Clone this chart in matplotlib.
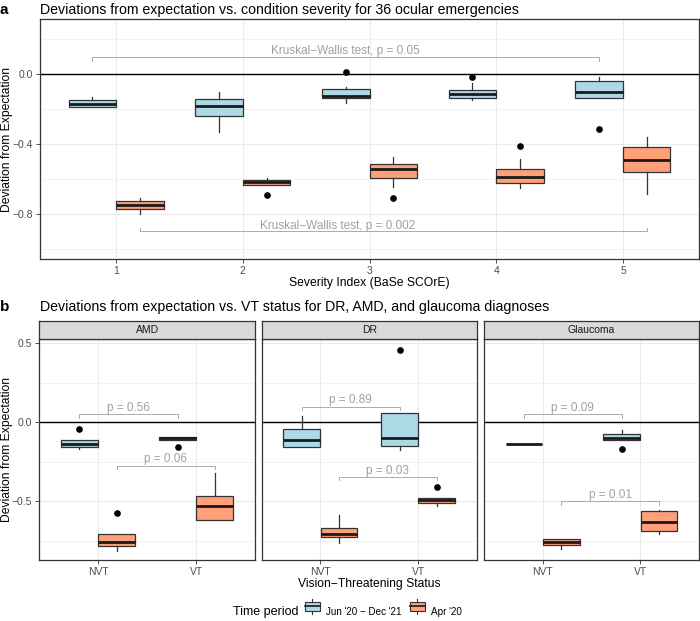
import matplotlib
matplotlib.use("Agg")
import matplotlib.pyplot as plt
from matplotlib.legend_handler import HandlerBase
from matplotlib.patches import Rectangle, Patch
from matplotlib.lines import Line2D
from matplotlib.ticker import MultipleLocator

plt.rcParams["font.family"] = ["Liberation Sans", "DejaVu Sans"]

# ---- data: panel a (severity index) ----
severity = [1, 2, 3, 4, 5]
# Jun '20 - Dec '21
sev_late_q1 = [-0.190, -0.238, -0.137, -0.137, -0.135]
sev_late_med = [-0.170, -0.183, -0.124, -0.114, -0.101]
sev_late_q3 = [-0.149, -0.145, -0.086, -0.090, -0.040]
sev_late_lo = [-0.190, -0.330, -0.168, -0.149, -0.135]
sev_late_hi = [-0.130, -0.103, -0.076, -0.053, -0.019]
sev_late_out = [[], [], [0.013], [-0.017], [-0.312]]
# Apr '20
sev_early_q1 = [-0.770, -0.636, -0.592, -0.625, -0.558]
sev_early_med = [-0.749, -0.617, -0.541, -0.589, -0.490]
sev_early_q3 = [-0.728, -0.608, -0.514, -0.545, -0.417]
sev_early_lo = [-0.800, -0.636, -0.646, -0.653, -0.688]
sev_early_hi = [-0.710, -0.596, -0.474, -0.488, -0.362]
sev_early_out = [[], [-0.690], [-0.709], [-0.410], []]
kw_labels = ["Kruskal\u2212Wallis test, p = 0.05", "Kruskal\u2212Wallis test, p = 0.002"]

# ---- data: panel b (VT status per diagnosis) ----
diagnoses = ["AMD", "DR", "Glaucoma"]
vt_status = ["NVT", "VT"]
# order: AMD NVT, AMD VT, DR NVT, DR VT, Glaucoma NVT, Glaucoma VT
vt_late_q1 = [-0.154, -0.114, -0.156, -0.150, -0.137, -0.112]
vt_late_med = [-0.141, -0.103, -0.112, -0.103, -0.137, -0.097]
vt_late_q3 = [-0.112, -0.091, -0.042, 0.059, -0.137, -0.072]
vt_late_lo = [-0.171, -0.114, -0.160, -0.175, -0.137, -0.112]
vt_late_hi = [-0.112, -0.091, 0.042, 0.059, -0.137, -0.051]
vt_late_out = [[-0.040], [-0.156], [], [0.460], [], [-0.169]]
vt_early_q1 = [-0.783, -0.622, -0.730, -0.515, -0.781, -0.690]
vt_early_med = [-0.762, -0.530, -0.709, -0.496, -0.759, -0.631]
vt_early_q3 = [-0.709, -0.466, -0.669, -0.479, -0.738, -0.561]
vt_early_lo = [-0.814, -0.622, -0.768, -0.534, -0.806, -0.709]
vt_early_hi = [-0.709, -0.319, -0.591, -0.479, -0.738, -0.557]
vt_early_out = [[-0.574], [], [], [-0.409], [], []]
p_late = ["p = 0.56", "p = 0.89", "p = 0.09"]
p_early = ["p = 0.06", "p = 0.03", "p = 0.01"]
bracket_late_y = [0.049, 0.099, 0.049]
bracket_early_y = [-0.276, -0.348, -0.502]

periods = ["Jun '20 \u2212 Dec '21", "Apr '20"]
colours = {"Jun '20 \u2212 Dec '21": "#ADD8E6", "Apr '20": "#FFA07A"}

EDGE = "#333333"
GRID = "#EBEBEB"
TICK = "#4D4D4D"
BRACKET = "#ABABAB"
PTXT = "#A0A0A0"
W, H = 700, 621
LABEL_FS = 8.7


def stats(q1, med, q3, lo, hi, out):
    return [dict(q1=a, med=b, q3=c, whislo=d, whishi=e, fliers=f)
            for a, b, c, d, e, f in zip(q1, med, q3, lo, hi, out)]


def draw_boxes(ax, st, pos, colour):
    ax.bxp(st, positions=pos, widths=0.375, patch_artist=True, showcaps=False,
           boxprops=dict(facecolor=colour, edgecolor=EDGE, linewidth=0.9),
           medianprops=dict(color="#1A1A1A", linewidth=2.0),
           whiskerprops=dict(color=EDGE, linewidth=0.9),
           flierprops=dict(marker="o", markerfacecolor="black", markeredgecolor="black",
                           markersize=3.8),
           manage_ticks=False, zorder=3)


def style_axes(ax):
    ax.set_facecolor("white")
    for s in ax.spines.values():
        s.set_color(EDGE)
        s.set_linewidth(0.9)
    ax.grid(which="major", color=GRID, linewidth=0.8, zorder=0)
    ax.grid(which="minor", color=GRID, linewidth=0.45, zorder=0)
    ax.set_axisbelow(True)
    ax.tick_params(which="major", length=3, width=0.6, color=EDGE, labelsize=7.5,
                   labelcolor=TICK, pad=2)
    ax.tick_params(which="minor", length=0)
    ax.axhline(0, color="black", linewidth=1.0, zorder=2)


def bracket(ax, x0, x1, y, tip):
    ax.plot([x0, x0, x1, x1], [y + tip, y, y, y + tip], color=BRACKET, linewidth=0.7,
            zorder=4)


class BoxKey(HandlerBase):
    # ggplot-like boxplot legend key: box, median line and whisker stubs
    def create_artists(self, legend, orig, xd, yd, width, height, fontsize, trans):
        cx = xd + width / 2
        r = Rectangle((xd, yd + height * 0.12), width, height * 0.76,
                      facecolor=orig.get_facecolor(), edgecolor=EDGE,
                      linewidth=0.8, transform=trans)
        m = Line2D([xd, xd + width], [yd + height / 2] * 2,
                   color="#1A1A1A", linewidth=1.2, transform=trans)
        w1 = Line2D([cx, cx], [yd - height * 0.15, yd + height * 0.12], color=EDGE,
                    linewidth=0.8, transform=trans)
        w2 = Line2D([cx, cx], [yd + height * 0.88, yd + height * 1.15], color=EDGE,
                    linewidth=0.8, transform=trans)
        return [r, m, w1, w2]


fig = plt.figure(figsize=(7.0, 6.21), dpi=100)

# ---------------- panel a ----------------
ax = fig.add_axes([40 / W, 1 - 259 / H, 659 / W, (259 - 19.3) / H])
style_axes(ax)
draw_boxes(ax, stats(sev_late_q1, sev_late_med, sev_late_q3, sev_late_lo, sev_late_hi,
                     sev_late_out), [s - 0.1875 for s in severity], colours[periods[0]])
draw_boxes(ax, stats(sev_early_q1, sev_early_med, sev_early_q3, sev_early_lo, sev_early_hi,
                     sev_early_out), [s + 0.1875 for s in severity], colours[periods[1]])
ax.set_xlim(0.4, 5.6)
ax.set_ylim(-1.057, 0.313)
ax.set_xticks(severity)
ax.set_yticks([0.0, -0.4, -0.8])
ax.yaxis.set_minor_locator(MultipleLocator(0.2))
ax.set_yticklabels(["0.0", "\u22120.4", "\u22120.8"])
bracket(ax, 0.81, 4.81, 0.099, -0.023)
ax.text(2.81, 0.133, kw_labels[0], ha="center", va="center", fontsize=8.5, color=PTXT)
bracket(ax, 1.19, 5.19, -0.895, 0.017)
ax.text(2.75, -0.869, kw_labels[1], ha="center", va="center", fontsize=8.5, color=PTXT)
fig.text((40 + 699) / 2 / W, 1 - 283 / H, "Severity Index (BaSe SCOrE)", ha="center",
         va="center", fontsize=LABEL_FS)
fig.text(7 / W, 1 - 139.5 / H, "Deviation from Expectation", rotation=90, ha="center",
         va="center", fontsize=LABEL_FS)
fig.text(0 / W, 1 - 10 / H, "a", fontsize=11, fontweight="bold", va="center")
fig.text(40 / W, 1 - 10 / H, "Deviations from expectation vs. condition severity for 36 ocular emergencies",
         fontsize=10.2, va="center")

# ---------------- panel b ----------------
panel_x = [(39.3, 255), (261.6, 477), (484, 699)]
x_pos = [1, 2]
for i, (dx, (l, r)) in enumerate(zip(diagnoses, panel_x)):
    axb = fig.add_axes([l / W, 1 - 560 / H, (r - l) / W, (560 - 339) / H])
    style_axes(axb)
    sl = slice(2 * i, 2 * i + 2)
    draw_boxes(axb, stats(vt_late_q1[sl], vt_late_med[sl], vt_late_q3[sl], vt_late_lo[sl],
                          vt_late_hi[sl], vt_late_out[sl]),
               [p - 0.19 for p in x_pos], colours[periods[0]])
    draw_boxes(axb, stats(vt_early_q1[sl], vt_early_med[sl], vt_early_q3[sl], vt_early_lo[sl],
                          vt_early_hi[sl], vt_early_out[sl]),
               [p + 0.19 for p in x_pos], colours[periods[1]])
    axb.set_xlim(0.4, 2.6)
    axb.set_ylim(-0.873, 0.527)
    axb.set_xticks(x_pos)
    axb.set_xticklabels(vt_status)
    axb.set_yticks([0.5, 0.0, -0.5])
    axb.yaxis.set_minor_locator(MultipleLocator(0.25))
    if i == 0:
        axb.set_yticklabels(["0.5", "0.0", "\u22120.5"])
    else:
        axb.tick_params(axis="y", labelleft=False, length=0)
    bracket(axb, 0.81, 1.81, bracket_late_y[i], -0.02)
    axb.text(1.31, bracket_late_y[i] + 0.04, p_late[i], ha="center", va="center",
             fontsize=8.5, color=PTXT)
    bracket(axb, 1.19, 2.19, bracket_early_y[i], -0.02)
    axb.text(1.69, bracket_early_y[i] + 0.04, p_early[i], ha="center", va="center",
             fontsize=8.5, color=PTXT)
    # facet strip
    strip = fig.add_axes([l / W, 1 - 339 / H, (r - l) / W, (339 - 320.7) / H])
    strip.set_facecolor("#D9D9D9")
    strip.set_xticks([])
    strip.set_yticks([])
    for s in strip.spines.values():
        s.set_color(EDGE)
        s.set_linewidth(0.9)
    strip.text(0.5, 0.5, dx, ha="center", va="center", fontsize=7.5, color="#1A1A1A",
               transform=strip.transAxes)

fig.text((40 + 699) / 2 / W, 1 - 584 / H, "Vision\u2212Threatening Status", ha="center",
         va="center", fontsize=LABEL_FS)
fig.text(7 / W, 1 - 450 / H, "Deviation from Expectation", rotation=90, ha="center",
         va="center", fontsize=LABEL_FS)
fig.text(0 / W, 1 - 307 / H, "b", fontsize=11, fontweight="bold", va="center")
fig.text(40 / W, 1 - 307 / H,
         "Deviations from expectation vs. VT status for DR, AMD, and glaucoma diagnoses",
         fontsize=10.2, va="center")

# ---------------- legend ----------------
fig.text(233 / W, 1 - 612 / H, "Time period", fontsize=9, va="center")
handles = [Patch(facecolor=colours[p]) for p in periods]
fig.legend(handles, periods, handler_map={Patch: BoxKey()}, ncol=2, frameon=False,
           loc="center left", bbox_to_anchor=(305 / W, 1 - 612 / H), fontsize=7.1,
           handlelength=1.5, handleheight=1.5, handletextpad=0.6, columnspacing=0.9,
           borderpad=0, borderaxespad=0)

fig.savefig("out.png", dpi=100)
